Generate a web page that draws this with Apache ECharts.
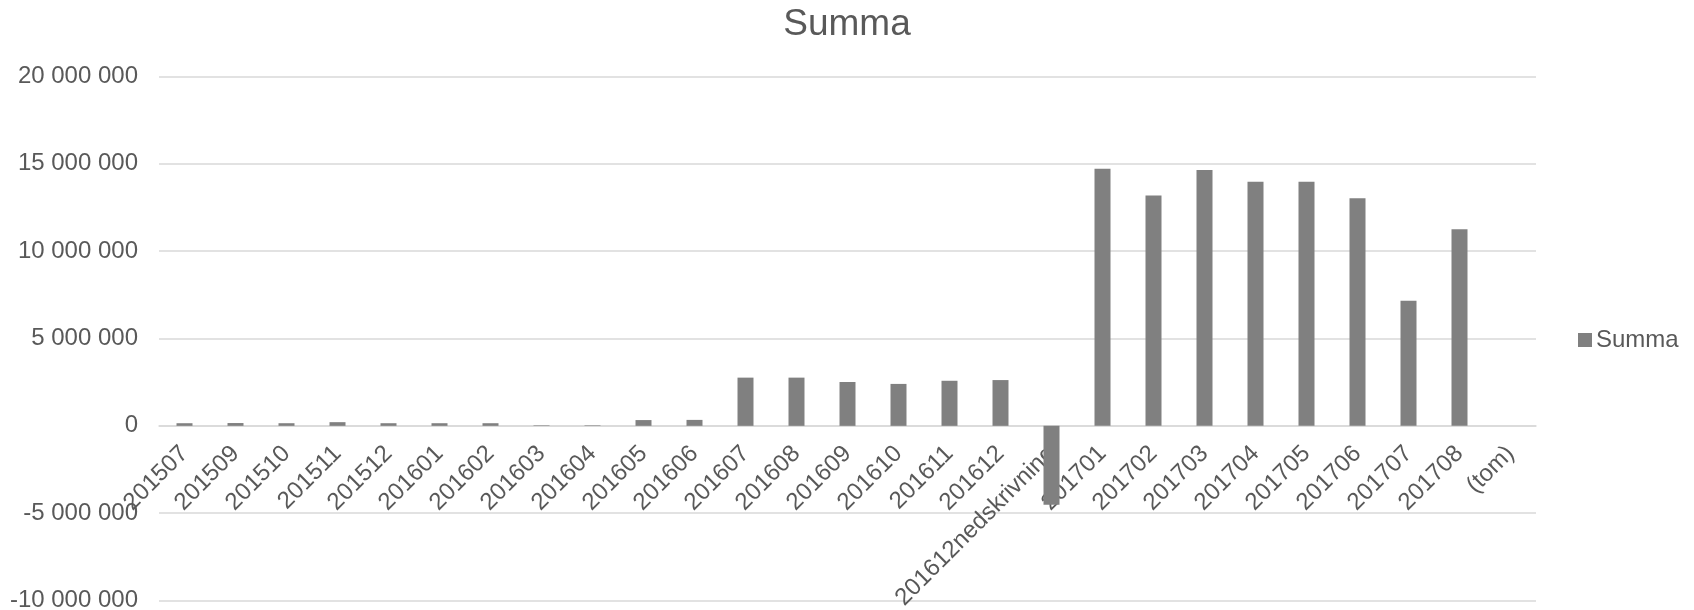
<!DOCTYPE html>
<html>
<head>
<meta charset="utf-8">
<script src="https://cdn.jsdelivr.net/npm/echarts@6/dist/echarts.min.js"></script>
<style>
html,body{margin:0;padding:0;background:#fff;}
#chart{width:1694px;height:610px;}
</style>
</head>
<body>
<div id="chart"></div>
<script>
const categories = ['201507','201509','201510','201511','201512','201601','201602','201603','201604','201605','201606','201607','201608','201609','201610','201611','201612','201612nedskrivning','201701','201702','201703','201704','201705','201706','201707','201708','(tom)'];
const summa = [150000,160000,150000,210000,150000,150000,150000,30000,30000,330000,340000,2760000,2760000,2510000,2400000,2580000,2620000,-4520000,14720000,13190000,14640000,13970000,13970000,13030000,7160000,11250000,null];
const yTicks = {min:-10000000, max:20000000, interval:5000000};
const seriesName = 'Summa';

const FONT = '"Liberation Sans", Arial, sans-serif';
const chart = echarts.init(document.getElementById('chart'), null, {renderer:'canvas'});
function fmt(v){
  const s = Math.abs(v).toString().replace(/\B(?=(\d{3})+(?!\d))/g,' ');
  return (v<0?'-':'') + s;
}
chart.setOption({
  animation:false,
  backgroundColor:'#ffffff',
  title:{text:'Summa', left:'center', top:1, textStyle:{fontFamily:FONT, fontSize:37, fontWeight:'normal', color:'#595959'}},
  legend:{data:[seriesName], left:1573, top:323, orient:'vertical', icon:'rect', itemWidth:14, itemHeight:14, itemGap:5,
    textStyle:{fontFamily:FONT, fontSize:24, color:'#595959', padding:[0,0,0,-1]}},
  grid:{left:159, right:158, top:76.5, bottom:9.5, containLabel:false, outerBoundsMode:'none'},
  xAxis:{type:'category', data:categories, boundaryGap:true, offset:0,
    axisTick:{show:false},
    axisLine:{onZero:false, lineStyle:{color:'#d9d9d9', width:1.5}},
    axisLabel:{interval:0, rotate:45, margin:24, fontFamily:FONT, fontSize:24, color:'#595959'}},
  yAxis:{type:'value', min:yTicks.min, max:yTicks.max, interval:yTicks.interval,
    axisLine:{show:false}, axisTick:{show:false},
    splitLine:{lineStyle:{color:'#d9d9d9', width:1.5}},
    axisLabel:{margin:21, formatter:fmt, fontFamily:FONT, fontSize:24, color:'#595959'}},
  series:[{name:seriesName, type:'bar', data:summa, barWidth:16, itemStyle:{color:'#808080'}}]
});
// place the category axis (line + labels) at value 0, as in the reference
const yZero = chart.convertToPixel({yAxisIndex:0}, 0);
const yBottom = chart.convertToPixel({yAxisIndex:0}, yTicks.min);
chart.setOption({xAxis:{offset: yZero - yBottom}});
</script>
</body>
</html>
